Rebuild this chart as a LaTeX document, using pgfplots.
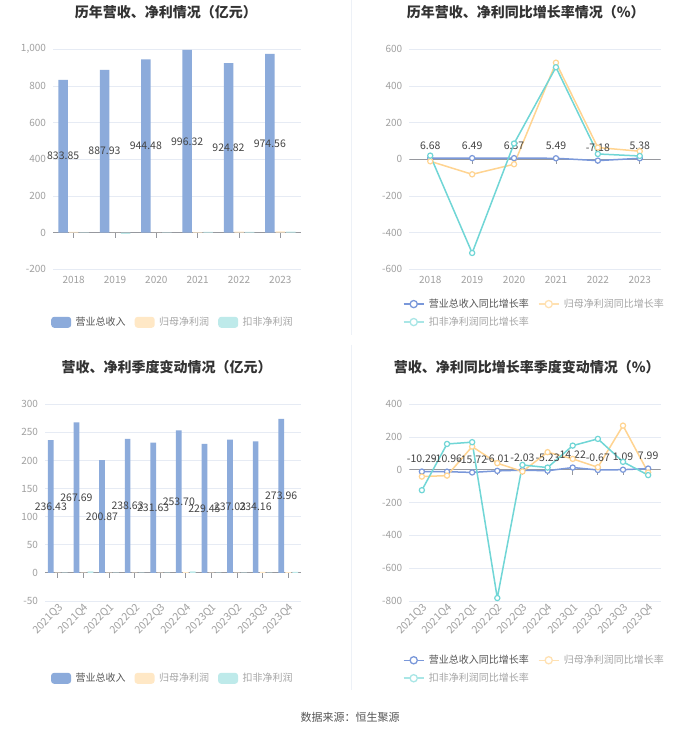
\documentclass[border=0pt]{standalone}
\usepackage{pgfplots}
\usepackage{pgfplotstable}
\pgfplotsset{compat=1.18}
\usepackage{fontspec}
\setmainfont{Noto Sans CJK SC}

\definecolor{barblue}{RGB}{140,171,219}
\definecolor{barorange}{RGB}{255,232,198}
\definecolor{barcyan}{RGB}{190,234,234}
\definecolor{lblue}{RGB}{122,152,218}
\definecolor{lorange}{RGB}{255,212,145}
\definecolor{lcyan}{RGB}{112,214,214}
\definecolor{gridc}{RGB}{230,235,244}
\definecolor{axisc}{RGB}{150,152,158}
\definecolor{tickc}{RGB}{160,160,160}
\definecolor{titlec}{RGB}{51,51,51}
\definecolor{labc}{RGB}{68,68,68}
\definecolor{legdark}{RGB}{85,85,85}
\definecolor{leglight}{RGB}{165,165,165}

\pgfkeys{/pgf/number format/assume math mode=true}

% annual values (亿元)
\pgfplotstableread{
i rev np dnp
0 833.85 3.6 1.5
1 887.93 0.66 -6.2
2 944.48 0.48 -0.9
3 996.32 3.0 3.6
4 924.82 4.95 4.65
5 974.56 7.1 5.5
}\annual

% annual growth (%)
\pgfplotstableread{
i rg npg dnpg
0 6.68 -11 20
1 6.49 -82 -511
2 6.37 -27 86
3 5.49 527 502
4 -7.18 64 29
5 5.38 44 18
}\annualg

% quarterly values (亿元)
\pgfplotstableread{
i rev np dnp
0 236.43 0.5 0.4
1 267.69 0.6 2.6
2 200.87 0.4 0.5
3 238.63 0.7 0.3
4 231.63 0.5 0.5
5 253.70 1.5 2.7
6 229.45 0.5 0.6
7 237.03 0.6 0.4
8 234.16 1.9 0.5
9 273.96 1.3 1.6
}\quarter

% quarterly growth (%)
\pgfplotstableread{
i rg npg dnpg
0 -10.29 -41 -124
1 -10.96 -35 158
2 -15.72 142 169
3 -6.01 41 -782
4 -2.03 -10 30
5 -5.23 108 14
6 14.22 67 148
7 -0.67 16 189
8 1.09 270 49
9 7.99 -16 -32
}\quarterg

\pgfplotsset{
  panel/.style={
    scale only axis, anchor=south west,
    axis line style={draw=none}, major tick style={draw=none},
    ymajorgrids, grid style={color=gridc, line width=0.8pt},
    yticklabel style={font=\fontsize{10}{12}\selectfont, color=tickc, xshift=-3.5pt},
    xticklabel style={font=\fontsize{10}{12}\selectfont, color=tickc},
    legend style={draw=none, fill=none, inner sep=0pt,
      font=\fontsize{10}{12}\selectfont,
      nodes={inner sep=0pt},
      /tikz/every odd column/.style={column sep=4.5pt},
      /tikz/every even column/.style={column sep=9pt}},
    legend cell align=left,
  },
  barleg/.style={legend image code/.code={\fill[#1, rounded corners=3pt] (0pt,-5.5pt) rectangle (20pt,5.5pt);}},
  lineleg/.style={legend image code/.code={%
    \draw[color=#1, line width=1.5pt] (0pt,0pt) -- (20pt,0pt);
    \draw[color=#1, fill=white, line width=1.3pt] (10pt,0pt) circle (3.6pt);}},
  vlabel/.style={draw=none, mark=none, forget plot, point meta=explicit,
    nodes near coords={\pgfmathprintnumber[fixed,fixed zerofill,precision=2]{\pgfplotspointmeta}},
    every node near coord/.append style={font=\fontsize{10.5}{12}\selectfont, color=labc, anchor=center, xshift=#1}},
  glabel/.style={nodes near coords={\pgfmathprintnumber[fixed,fixed zerofill,precision=2]{\pgfplotspointmeta}},
    point meta=explicit,
    every node near coord/.append style={font=\fontsize{10.5}{12}\selectfont, color=labc, anchor=south, inner sep=2pt, yshift=6pt}},
  gline/.style={color=#1, line width=1.5pt, mark=*, mark size=2.6pt,
    mark options={fill=white, line width=1.2pt}},
}

\begin{document}
\begin{tikzpicture}
\fill[white] (0pt,0pt) rectangle (700pt,733pt);
\useasboundingbox (0pt,0pt) rectangle (700pt,733pt);
\draw[color=gridc!70, line width=0.6pt] (351pt,733pt) -- (351pt,398pt);
\draw[color=gridc!70, line width=0.6pt] (351pt,388pt) -- (351pt,43pt);

\node[font=\bfseries\fontsize{14}{16}\selectfont, color=titlec] at (165.8pt,721pt) {历年营收、净利情况（亿元）};
\node[font=\bfseries\fontsize{14}{16}\selectfont, color=titlec] at (525.8pt,721pt) {历年营收、净利同比增长率情况（\%）};
\node[font=\bfseries\fontsize{14}{16}\selectfont, color=titlec] at (166.7pt,366pt) {营收、净利季度变动情况（亿元）};
\node[font=\bfseries\fontsize{14}{16}\selectfont, color=titlec] at (526.7pt,366pt) {营收、净利同比增长率季度变动情况（\%）};
\node[font=\fontsize{11}{13}\selectfont, color=legdark] at (350pt,16pt) {数据来源：恒生聚源};

% panel 1
\begin{axis}[panel, at={(53pt,463.7pt)}, width=248pt, height=220pt,
  xmin=-0.5, xmax=5.5, ymin=-200, ymax=1000, ytick={-200,0,...,1000},
  yticklabel style={/pgf/number format/1000 sep={,}},
  xtick={0,...,5}, xticklabels={2018,2019,2020,2021,2022,2023},
  xticklabel style={yshift=-3pt},
  legend columns=3,
  legend style={at={(-0.008,-0.241)}, anchor=west}]
\draw[axisc, line width=0.8pt] (axis cs:-0.5,0) -- (axis cs:5.5,0);
\pgfplotsinvokeforeach{0,...,5}{\draw[axisc, line width=0.8pt] (axis cs:#1,0) -- ++(0pt,-5pt);}
\addplot[ybar, bar width=9.5pt, bar shift=-10.5pt, fill=barblue, draw=none, barleg=barblue] table[x=i, y=rev] {\annual};
\addlegendentry{\textcolor{legdark}{营业总收入}}
\addplot[ybar, bar width=9.5pt, bar shift=0pt, fill=barorange, draw=none, barleg=barorange] table[x=i, y=np] {\annual};
\addlegendentry{\textcolor{leglight}{归母净利润}}
\addplot[ybar, bar width=9.5pt, bar shift=10.5pt, fill=barcyan, draw=none, barleg=barcyan] table[x=i, y=dnp] {\annual};
\addlegendentry{\textcolor{leglight}{扣非净利润}}
\addplot[vlabel=-10.5pt] table[x=i, y expr=\thisrow{rev}/2, meta=rev] {\annual};
\end{axis}

% panel 2
\begin{axis}[panel, at={(409.3pt,463.7pt)}, width=251.4pt, height=220pt,
  xmin=-0.5, xmax=5.5, ymin=-600, ymax=600, ytick={-600,-400,...,600},
  xtick={0,...,5}, xticklabels={2018,2019,2020,2021,2022,2023},
  xticklabel style={yshift=-3pt},
  legend columns=2,
  legend style={at={(-0.026,-0.199)}, anchor=west, /tikz/row sep=8pt}]
\draw[axisc, line width=0.8pt] (axis cs:-0.5,0) -- (axis cs:5.5,0);
\pgfplotsinvokeforeach{0,...,5}{\draw[axisc, line width=0.8pt] (axis cs:#1,0) -- ++(0pt,-5pt);}
\addplot[gline=lblue, glabel, lineleg=lblue] table[x=i, y=rg, meta=rg] {\annualg};
\addlegendentry{\textcolor{legdark}{营业总收入同比增长率}}
\addplot[gline=lorange, lineleg=lorange!70] table[x=i, y=npg] {\annualg};
\addlegendentry{\textcolor{leglight}{归母净利润同比增长率}}
\addplot[gline=lcyan, lineleg=lcyan!60] table[x=i, y=dnpg] {\annualg};
\addlegendentry{\textcolor{leglight}{扣非净利润同比增长率}}
\end{axis}

% panel 3
\begin{axis}[panel, at={(45pt,132pt)}, width=256pt, height=196.7pt,
  xmin=-0.5, xmax=9.5, ymin=-50, ymax=300, ytick={-50,0,...,300},
  xtick={0,...,9},
  xticklabels={2021Q3,2021Q4,2022Q1,2022Q2,2022Q3,2022Q4,2023Q1,2023Q2,2023Q3,2023Q4},
  xticklabel style={rotate=45, anchor=north east, inner sep=1pt, font=\fontsize{10.5}{12}\selectfont},
  legend columns=3,
  legend style={at={(0.023,-0.393)}, anchor=west}]
\draw[axisc, line width=0.8pt] (axis cs:-0.5,0) -- (axis cs:9.5,0);
\pgfplotsinvokeforeach{0,...,9}{\draw[axisc, line width=0.8pt] (axis cs:#1,0) -- ++(0pt,-5pt);}
\addplot[ybar, bar width=5.7pt, bar shift=-7pt, fill=barblue, draw=none, barleg=barblue] table[x=i, y=rev] {\quarter};
\addlegendentry{\textcolor{legdark}{营业总收入}}
\addplot[ybar, bar width=5.7pt, bar shift=0pt, fill=barorange, draw=none, barleg=barorange] table[x=i, y=np] {\quarter};
\addlegendentry{\textcolor{leglight}{归母净利润}}
\addplot[ybar, bar width=5.7pt, bar shift=7pt, fill=barcyan, draw=none, barleg=barcyan] table[x=i, y=dnp] {\quarter};
\addlegendentry{\textcolor{leglight}{扣非净利润}}
\addplot[vlabel=-7pt] table[x=i, y expr=\thisrow{rev}/2, meta=rev] {\quarter};
\end{axis}

% panel 4
\begin{axis}[panel, at={(409.3pt,132pt)}, width=251.4pt, height=196.7pt,
  xmin=-0.5, xmax=9.5, ymin=-800, ymax=400, ytick={-800,-600,...,400},
  xtick={0,...,9},
  xticklabels={2021Q3,2021Q4,2022Q1,2022Q2,2022Q3,2022Q4,2023Q1,2023Q2,2023Q3,2023Q4},
  xticklabel style={rotate=45, anchor=north east, inner sep=1pt, font=\fontsize{10.5}{12}\selectfont},
  legend columns=2,
  legend style={at={(-0.026,-0.347)}, anchor=west, /tikz/row sep=8pt}]
\draw[axisc, line width=0.8pt] (axis cs:-0.5,0) -- (axis cs:9.5,0);
\pgfplotsinvokeforeach{0,...,9}{\draw[axisc, line width=0.8pt] (axis cs:#1,0) -- ++(0pt,-5pt);}
\addplot[gline=lblue, glabel, lineleg=lblue] table[x=i, y=rg, meta=rg] {\quarterg};
\addlegendentry{\textcolor{legdark}{营业总收入同比增长率}}
\addplot[gline=lorange, lineleg=lorange!70] table[x=i, y=npg] {\quarterg};
\addlegendentry{\textcolor{leglight}{归母净利润同比增长率}}
\addplot[gline=lcyan, lineleg=lcyan!60] table[x=i, y=dnpg] {\quarterg};
\addlegendentry{\textcolor{leglight}{扣非净利润同比增长率}}
\end{axis}
\end{tikzpicture}
\end{document}
